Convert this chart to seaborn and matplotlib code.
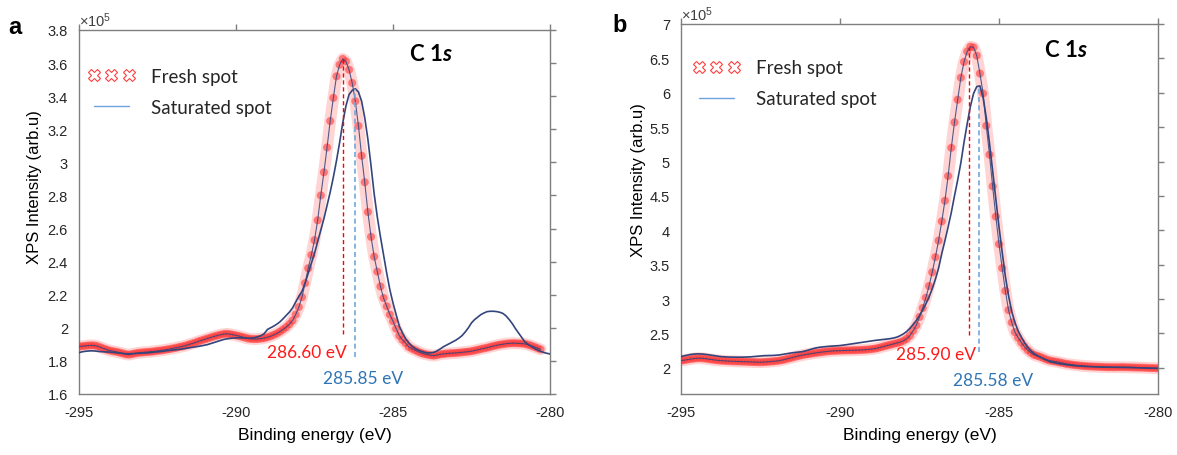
import numpy as np
import pandas as pd
import matplotlib
matplotlib.use("Agg")
import matplotlib.pyplot as plt
from matplotlib.lines import Line2D
import seaborn as sns

# ---------------- data (intensity in units of 1e5 counts) ----------------
E_START = -295.0
E_STEP = 0.1

fresh_a = [
    1.887, 1.889, 1.891, 1.893, 1.894, 1.893, 1.888, 1.881, 1.874, 1.867,
    1.862, 1.858, 1.855, 1.850, 1.845, 1.840, 1.838, 1.842, 1.846, 1.849,
    1.851, 1.853, 1.854, 1.856, 1.858, 1.861, 1.863, 1.866, 1.869, 1.872,
    1.876, 1.880, 1.884, 1.888, 1.893, 1.899, 1.905, 1.911, 1.918, 1.924,
    1.930, 1.936, 1.942, 1.948, 1.953, 1.958, 1.962, 1.964, 1.962, 1.958,
    1.954, 1.950, 1.945, 1.940, 1.935, 1.933, 1.932, 1.933, 1.935, 1.938,
    1.943, 1.949, 1.957, 1.966, 1.977, 1.990, 2.004, 2.022, 2.044, 2.080,
    2.125, 2.185, 2.270, 2.360, 2.440, 2.530, 2.650, 2.800, 2.940, 3.090,
    3.250, 3.390, 3.520, 3.590, 3.625, 3.610, 3.560, 3.480, 3.370, 3.220,
    3.040, 2.880, 2.700, 2.550, 2.430, 2.340, 2.250, 2.180, 2.130, 2.080,
    2.040, 1.995, 1.953, 1.928, 1.908, 1.885, 1.874, 1.865, 1.856, 1.848,
    1.842, 1.838, 1.834, 1.832, 1.835, 1.840, 1.842, 1.844, 1.846, 1.847,
    1.848, 1.850, 1.852, 1.854, 1.856, 1.859, 1.863, 1.867, 1.872, 1.876,
    1.880, 1.885, 1.890, 1.894, 1.898, 1.901, 1.904, 1.906, 1.907, 1.907,
    1.906, 1.905, 1.903, 1.898, 1.892, 1.885, 1.877, 1.870,
]

saturated_a = [
    1.850, 1.855, 1.858, 1.860, 1.861, 1.860, 1.858, 1.856, 1.855, 1.854,
    1.853, 1.851, 1.849, 1.847, 1.845, 1.843, 1.843, 1.844, 1.845, 1.846,
    1.847, 1.848, 1.849, 1.851, 1.853, 1.855, 1.857, 1.859, 1.862, 1.864,
    1.866, 1.868, 1.870, 1.873, 1.876, 1.879, 1.882, 1.885, 1.888, 1.891,
    1.895, 1.899, 1.905, 1.911, 1.917, 1.923, 1.929, 1.933, 1.936, 1.938,
    1.939, 1.940, 1.939, 1.938, 1.937, 1.938, 1.941, 1.946, 1.953, 1.965,
    1.990, 2.000, 2.010, 2.022, 2.036, 2.055, 2.075, 2.095, 2.120, 2.155,
    2.190, 2.220, 2.270, 2.330, 2.390, 2.450, 2.520, 2.590, 2.660, 2.740,
    2.820, 2.910, 3.010, 3.120, 3.240, 3.340, 3.410, 3.435, 3.445, 3.425,
    3.370, 3.270, 3.140, 2.980, 2.810, 2.670, 2.550, 2.440, 2.330, 2.230,
    2.150, 2.080, 2.010, 1.970, 1.935, 1.910, 1.890, 1.875, 1.865, 1.858,
    1.852, 1.848, 1.849, 1.852, 1.860, 1.872, 1.885, 1.895, 1.905, 1.915,
    1.925, 1.938, 1.953, 1.975, 2.000, 2.030, 2.050, 2.065, 2.080, 2.090,
    2.098, 2.100, 2.100, 2.098, 2.094, 2.087, 2.072, 2.050, 2.025, 1.995,
    1.968, 1.940, 1.915, 1.900, 1.888, 1.876, 1.866, 1.858, 1.851, 1.846,
    1.842,
]

fresh_b = [
    2.106, 2.112, 2.120, 2.128, 2.135, 2.140, 2.141, 2.138, 2.132, 2.125,
    2.118, 2.112, 2.107, 2.104, 2.101, 2.098, 2.096, 2.094, 2.093, 2.092,
    2.090, 2.088, 2.086, 2.084, 2.083, 2.082, 2.084, 2.087, 2.091, 2.095,
    2.100, 2.106, 2.115, 2.126, 2.138, 2.150, 2.162, 2.174, 2.184, 2.193,
    2.201, 2.208, 2.215, 2.222, 2.228, 2.234, 2.239, 2.243, 2.247, 2.249,
    2.251, 2.253, 2.254, 2.255, 2.256, 2.257, 2.259, 2.261, 2.264, 2.268,
    2.273, 2.280, 2.290, 2.302, 2.315, 2.327, 2.339, 2.350, 2.361, 2.375,
    2.395, 2.425, 2.470, 2.540, 2.620, 2.740, 2.870, 3.020, 3.190, 3.390,
    3.610, 3.850, 4.130, 4.430, 4.790, 5.200, 5.570, 5.900, 6.220, 6.450,
    6.600, 6.670, 6.660, 6.540, 6.280, 5.990, 5.520, 5.100, 4.640, 4.200,
    3.800, 3.450, 3.120, 2.840, 2.660, 2.520, 2.440, 2.370, 2.310, 2.260,
    2.220, 2.190, 2.175, 2.160, 2.140, 2.120, 2.106, 2.097, 2.090, 2.080,
    2.070, 2.060, 2.053, 2.046, 2.040, 2.035, 2.030, 2.026, 2.023, 2.020,
    2.018, 2.016, 2.014, 2.012, 2.010, 2.010, 2.009, 2.009, 2.010, 2.010,
    2.009, 2.008, 2.006, 2.005, 2.004, 2.003, 2.001, 1.999, 1.997, 1.996,
    1.995,
]

saturated_b = [
    2.165, 2.175, 2.186, 2.195, 2.200, 2.203, 2.203, 2.200, 2.195, 2.188,
    2.180, 2.173, 2.167, 2.162, 2.159, 2.157, 2.156, 2.155, 2.155, 2.155,
    2.156, 2.158, 2.161, 2.165, 2.170, 2.174, 2.177, 2.179, 2.180, 2.181,
    2.184, 2.189, 2.196, 2.204, 2.212, 2.219, 2.224, 2.228, 2.235, 2.245,
    2.258, 2.272, 2.285, 2.295, 2.302, 2.307, 2.311, 2.315, 2.318, 2.321,
    2.324, 2.330, 2.337, 2.344, 2.352, 2.359, 2.366, 2.373, 2.380, 2.387,
    2.393, 2.399, 2.405, 2.410, 2.415, 2.420, 2.427, 2.436, 2.449, 2.470,
    2.496, 2.530, 2.575, 2.630, 2.690, 2.760, 2.840, 2.930, 3.030, 3.150,
    3.290, 3.450, 3.660, 3.850, 4.050, 4.260, 4.500, 4.730, 4.980, 5.280,
    5.550, 5.800, 5.990, 6.090, 6.100, 5.930, 5.640, 5.270, 4.860, 4.450,
    4.050, 3.680, 3.330, 3.050, 2.820, 2.660, 2.540, 2.450, 2.370, 2.300,
    2.250, 2.210, 2.180, 2.155, 2.130, 2.110, 2.090, 2.080, 2.070, 2.060,
    2.053, 2.046, 2.040, 2.035, 2.030, 2.027, 2.024, 2.021, 2.019, 2.017,
    2.015, 2.013, 2.012, 2.011, 2.010, 2.009, 2.008, 2.008, 2.007, 2.007,
    2.006, 2.005, 2.004, 2.003, 2.001, 1.999, 1.997, 1.996, 1.995, 1.994,
    1.993,
]

# peak markers (position in eV, lower end of the drop line) and their labels
peak_pos_a = [-286.60, -286.20]
peak_low_a = [1.963, 1.824]
peak_lbl_a = ["286.60 eV", "285.85 eV"]
peak_pos_b = [-285.93, -285.63]
peak_low_b = [2.48, 2.23]
peak_lbl_b = ["285.90 eV", "285.58 eV"]

x_ticks = [-295, -290, -285, -280]
y_ticks_a = [1.6, 1.8, 2.0, 2.2, 2.4, 2.6, 2.8, 3.0, 3.2, 3.4, 3.6, 3.8]
y_ticks_b = [2.0, 2.5, 3.0, 3.5, 4.0, 4.5, 5.0, 5.5, 6.0, 6.5, 7.0]
series_labels = ["Fresh spot", "Saturated spot"]


def energies(vals):
    return np.round(E_START + E_STEP * np.arange(len(vals)), 2)


# ---------------- style ----------------
sns.set_theme(style="white")
plt.rcParams["font.family"] = ["Liberation Sans", "DejaVu Sans"]
plt.rcParams["axes.unicode_minus"] = False
plt.rcParams["mathtext.fontset"] = "custom"
plt.rcParams["mathtext.rm"] = "Liberation Sans"
plt.rcParams["mathtext.it"] = "Lato:italic:bold"

RED = "#ff2a2a"
NAVY = "#34457c"
SPINE = "#7f7f7f"
TXT = "#262626"
LBL_BLUE = "#2e75b6"
LEG_BLUE = "#6fa3dc"
CAL = ["Lato", "DejaVu Sans"]

fig = plt.figure(figsize=(11.77, 4.56), dpi=100)
W, H = 1177, 456
ax_a = fig.add_axes([79 / W, 1 - 395 / H, 471 / W, 364 / H])
ax_b = fig.add_axes([681 / W, 1 - 395 / H, 477 / W, 370 / H])


def draw(ax, fresh, sat, pos, low, lbls, ylim, yticks, lbl_xy, c1s_xy,
         leg_anchor, ylabel_xy):
    df_f = pd.DataFrame({"E": energies(fresh), "I": fresh})
    df_s = pd.DataFrame({"E": energies(sat), "I": sat})
    sns.lineplot(data=df_f, x="E", y="I", ax=ax, color=RED, lw=8.5,
                 alpha=0.2, estimator=None, sort=False, zorder=2)
    sns.scatterplot(data=df_f, x="E", y="I", ax=ax, color=RED, s=34,
                    alpha=0.55, edgecolor="none", linewidth=0, zorder=3)
    sns.lineplot(data=df_f, x="E", y="I", ax=ax, color=NAVY, lw=0.8,
                 alpha=0.85, estimator=None, sort=False, zorder=4)
    sns.lineplot(data=df_s, x="E", y="I", ax=ax, color=NAVY, lw=1.2,
                 estimator=None, sort=False, zorder=5)

    tops = [max(fresh), max(sat)]
    ax.vlines(pos[0], low[0], tops[0], colors="#ff0000",
              linestyles=(0, (3, 2)), lw=1.0, zorder=7)
    ax.vlines(pos[1], low[1], tops[1], colors="#6fa8dc",
              linestyles=(0, (3, 2)), lw=1.2, zorder=7)

    ax.text(lbl_xy[0][0], lbl_xy[0][1], lbls[0], color="#ff1a1a",
            family=CAL, fontsize=12.5, ha="center", va="center")
    ax.text(lbl_xy[1][0], lbl_xy[1][1], lbls[1], color=LBL_BLUE,
            family=CAL, fontsize=12.5, ha="center", va="center")
    ax.text(c1s_xy[0], c1s_xy[1], r"C 1$\mathit{s}$", family=CAL,
            fontsize=16, fontweight="bold", ha="center", va="center",
            color="black")

    ax.set_xlim(-295, -280)
    ax.set_ylim(*ylim)
    ax.set_xticks(x_ticks)
    ax.set_xticklabels([str(t) for t in x_ticks])
    ax.set_yticks(yticks)
    ax.set_yticklabels([f"{t:g}" for t in yticks])
    for s in ax.spines.values():
        s.set_visible(True)
        s.set_color(SPINE)
        s.set_linewidth(1.0)
    ax.tick_params(axis="both", which="both", direction="out", length=4,
                   width=1, color=SPINE, top=True, right=True,
                   labeltop=False, labelright=False, labelsize=10.5,
                   labelcolor=TXT, pad=4)
    ax.set_xlabel("Binding energy (eV)", fontsize=12.5, color="black",
                  labelpad=6)
    ax.set_ylabel("XPS Intensity (arb.u)", fontsize=12, color="black")
    ax.yaxis.set_label_coords(*ylabel_xy)
    ax.text(0.0, 1.004, r"$\times10^{5}$", transform=ax.transAxes,
            fontsize=10.5, color="#404040", ha="left", va="bottom")

    handles = [
        Line2D([], [], ls="none", marker="X", markersize=8.5,
               markerfacecolor="white", markeredgecolor="#ff4040",
               markeredgewidth=0.8),
        Line2D([], [], color=LEG_BLUE, lw=1.0),
    ]
    ax.legend(handles=handles, labels=series_labels, loc="upper left",
              bbox_to_anchor=leg_anchor, frameon=False, numpoints=3,
              handlelength=2.5, handletextpad=0.85, labelspacing=0.75,
              borderaxespad=0, borderpad=0,
              prop={"family": CAL, "size": 13.5})


draw(ax_a, fresh_a, saturated_a, peak_pos_a, peak_low_a, peak_lbl_a,
     (1.6, 3.8), y_ticks_a, [(-287.75, 1.854), (-285.94, 1.697)],
     (-283.8, 3.655), (0.019, 0.896), (-0.079, 0.57))
draw(ax_b, fresh_b, saturated_b, peak_pos_b, peak_low_b, peak_lbl_b,
     (1.62, 7.0), y_ticks_b, [(-286.98, 2.20), (-285.19, 1.823)],
     (-282.89, 6.635), (0.025, 0.905), (-0.073, 0.58))

fig.text(15 / W, 1 - 27 / H, "a", fontsize=17, fontweight="bold",
         ha="center", va="center", color="black")
fig.text(620 / W, 1 - 25 / H, "b", fontsize=17, fontweight="bold",
         ha="center", va="center", color="black")

fig.savefig("out.png", dpi=100, facecolor="white")
